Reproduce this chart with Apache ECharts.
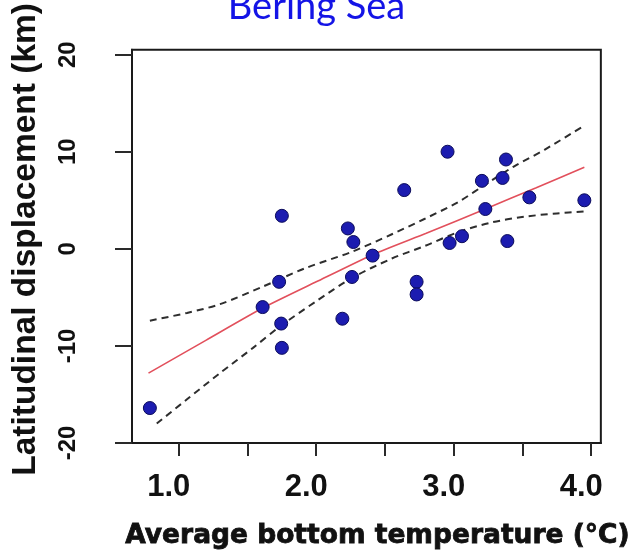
<!DOCTYPE html>
<html>
<head>
<meta charset="utf-8">
<script src="https://cdn.jsdelivr.net/npm/echarts@6/dist/echarts.min.js"></script>
<style>
  html, body { margin: 0; padding: 0; background: #ffffff; }
  #chart { width: 633px; height: 557px; }
</style>
</head>
<body>
<div id="chart"></div>
<script>
// Survey years: average bottom temperature (°C) vs. latitudinal displacement (km)
const tempC = [0.79, 1.61, 1.75, 1.73, 1.745, 1.75, 2.19, 2.23, 2.27, 2.26, 2.41, 2.64,
               2.73, 2.73, 2.955, 2.97, 3.06, 3.205, 3.23, 3.355, 3.38, 3.39, 3.55, 3.95];
const displacementKm = [-16.4, -6.0, 3.4, -3.4, -7.7, -10.2, -7.2, 2.1, 0.7, -2.9, -0.7, 6.05,
                        -3.4, -4.7, 10.0, 0.6, 1.3, 7.0, 4.1, 7.3, 9.2, 0.8, 5.3, 5.0];

// Fitted regression line
const fitX = [0.78, 1.2, 1.61, 2.0, 2.41, 2.8, 3.23, 3.6, 3.95];
const fitY = [-12.8, -9.4, -6.1, -3.4, -0.6, 1.6, 4.1, 6.3, 8.4];

// Upper and lower confidence bands
const upperX = [0.79, 1.06, 1.30, 1.61, 1.92, 2.26, 2.55, 2.79, 3.03, 3.27, 3.44, 3.66, 3.95];
const upperY = [-7.4, -6.6, -5.7, -3.9, -2.0, -0.3, 1.5, 3.1, 4.8, 7.0, 8.5, 10.2, 12.7];
const lowerX = [0.84, 1.06, 1.30, 1.54, 1.745, 2.0, 2.26, 2.55, 2.79, 3.03, 3.27, 3.51, 3.75, 3.95];
const lowerY = [-18.0, -15.5, -12.8, -10.2, -7.9, -5.4, -3.0, -1.0, 0.3, 1.7, 2.7, 3.3, 3.65, 3.85];

// Axis ticks and labels
const xTickValues = [1.0, 1.5, 2.0, 2.5, 3.0, 3.5, 4.0];
const xLabelValues = [1.0, 2.0, 3.0, 4.0];
const yTickValues = [-20, -10, 0, 10, 20];

const zip = (xs, ys) => xs.map((x, i) => [x, ys[i]]);

const chart = echarts.init(document.getElementById('chart'), null, { renderer: 'canvas' });

const dashStyle = { type: [7, 5], color: '#2e2e2e', width: 2 };

chart.setOption({
  animation: false,
  backgroundColor: '#ffffff',
  title: {
    text: 'Bering Sea',
    left: 'center',
    top: -12,
    padding: [0, 0, 0, 10],
    textStyle: { fontFamily: 'Lato', fontWeight: 'normal', fontSize: 38, color: '#1414e6' }
  },
  grid: {
    left: 132, right: 29, top: 46, bottom: 114,
    show: true, borderColor: '#1a1a1a', borderWidth: 2
  },
  xAxis: {
    type: 'value',
    min: 0.66, max: 4.07,
    name: 'Average bottom temperature (°C)',
    nameLocation: 'middle',
    nameGap: 80,
    nameTextStyle: {
      fontFamily: 'DejaVu Sans', fontWeight: 'bold', fontSize: 26.5, color: '#111',
      textBorderColor: '#111', textBorderWidth: 0.8,
      padding: [0, 0, 0, 22]
    },
    axisLine: { show: true, onZero: false, lineStyle: { color: '#1a1a1a', width: 2 } },
    axisTick: { show: true, customValues: xTickValues, length: 13, lineStyle: { color: '#2a2a2a', width: 2 } },
    axisLabel: {
      customValues: xLabelValues,
      formatter: v => v.toFixed(1),
      fontFamily: 'Liberation Sans', fontWeight: 'bold', fontSize: 31, color: '#111',
      margin: 29,
      padding: [0, 20, 0, 0]
    },
    splitLine: { show: false }
  },
  yAxis: {
    type: 'value',
    min: -20, max: 20.5,
    name: 'Latitudinal displacement (km)',
    nameLocation: 'middle',
    nameGap: 89,
    nameTextStyle: {
      fontFamily: 'Liberation Sans', fontWeight: 'bold', fontSize: 33.5, color: '#111',
      padding: [0, 0, 0, 14]
    },
    axisLine: { show: true, onZero: false, lineStyle: { color: '#1a1a1a', width: 2 } },
    axisTick: { show: true, customValues: yTickValues, length: 17, lineStyle: { color: '#2a2a2a', width: 2 } },
    axisLabel: {
      customValues: yTickValues,
      rotate: 90,
      fontFamily: 'Liberation Sans', fontWeight: 'bold', fontSize: 24, color: '#111',
      margin: 52
    },
    splitLine: { show: false }
  },
  series: [
    {
      type: 'line', data: zip(upperX, upperY), symbol: 'none', smooth: 0.3,
      lineStyle: dashStyle, z: 2
    },
    {
      type: 'line', data: zip(lowerX, lowerY), symbol: 'none', smooth: 0.3,
      lineStyle: dashStyle, z: 2
    },
    {
      type: 'line', data: zip(fitX, fitY), symbol: 'none', smooth: 0.2,
      lineStyle: { color: '#e2505c', width: 1.6 }, z: 3
    },
    {
      type: 'scatter', data: zip(tempC, displacementKm), symbolSize: 13,
      itemStyle: { color: '#1c1cb0', borderColor: '#0b0b5a', borderWidth: 1, opacity: 1 },
      z: 4
    }
  ]
});
</script>
</body>
</html>
